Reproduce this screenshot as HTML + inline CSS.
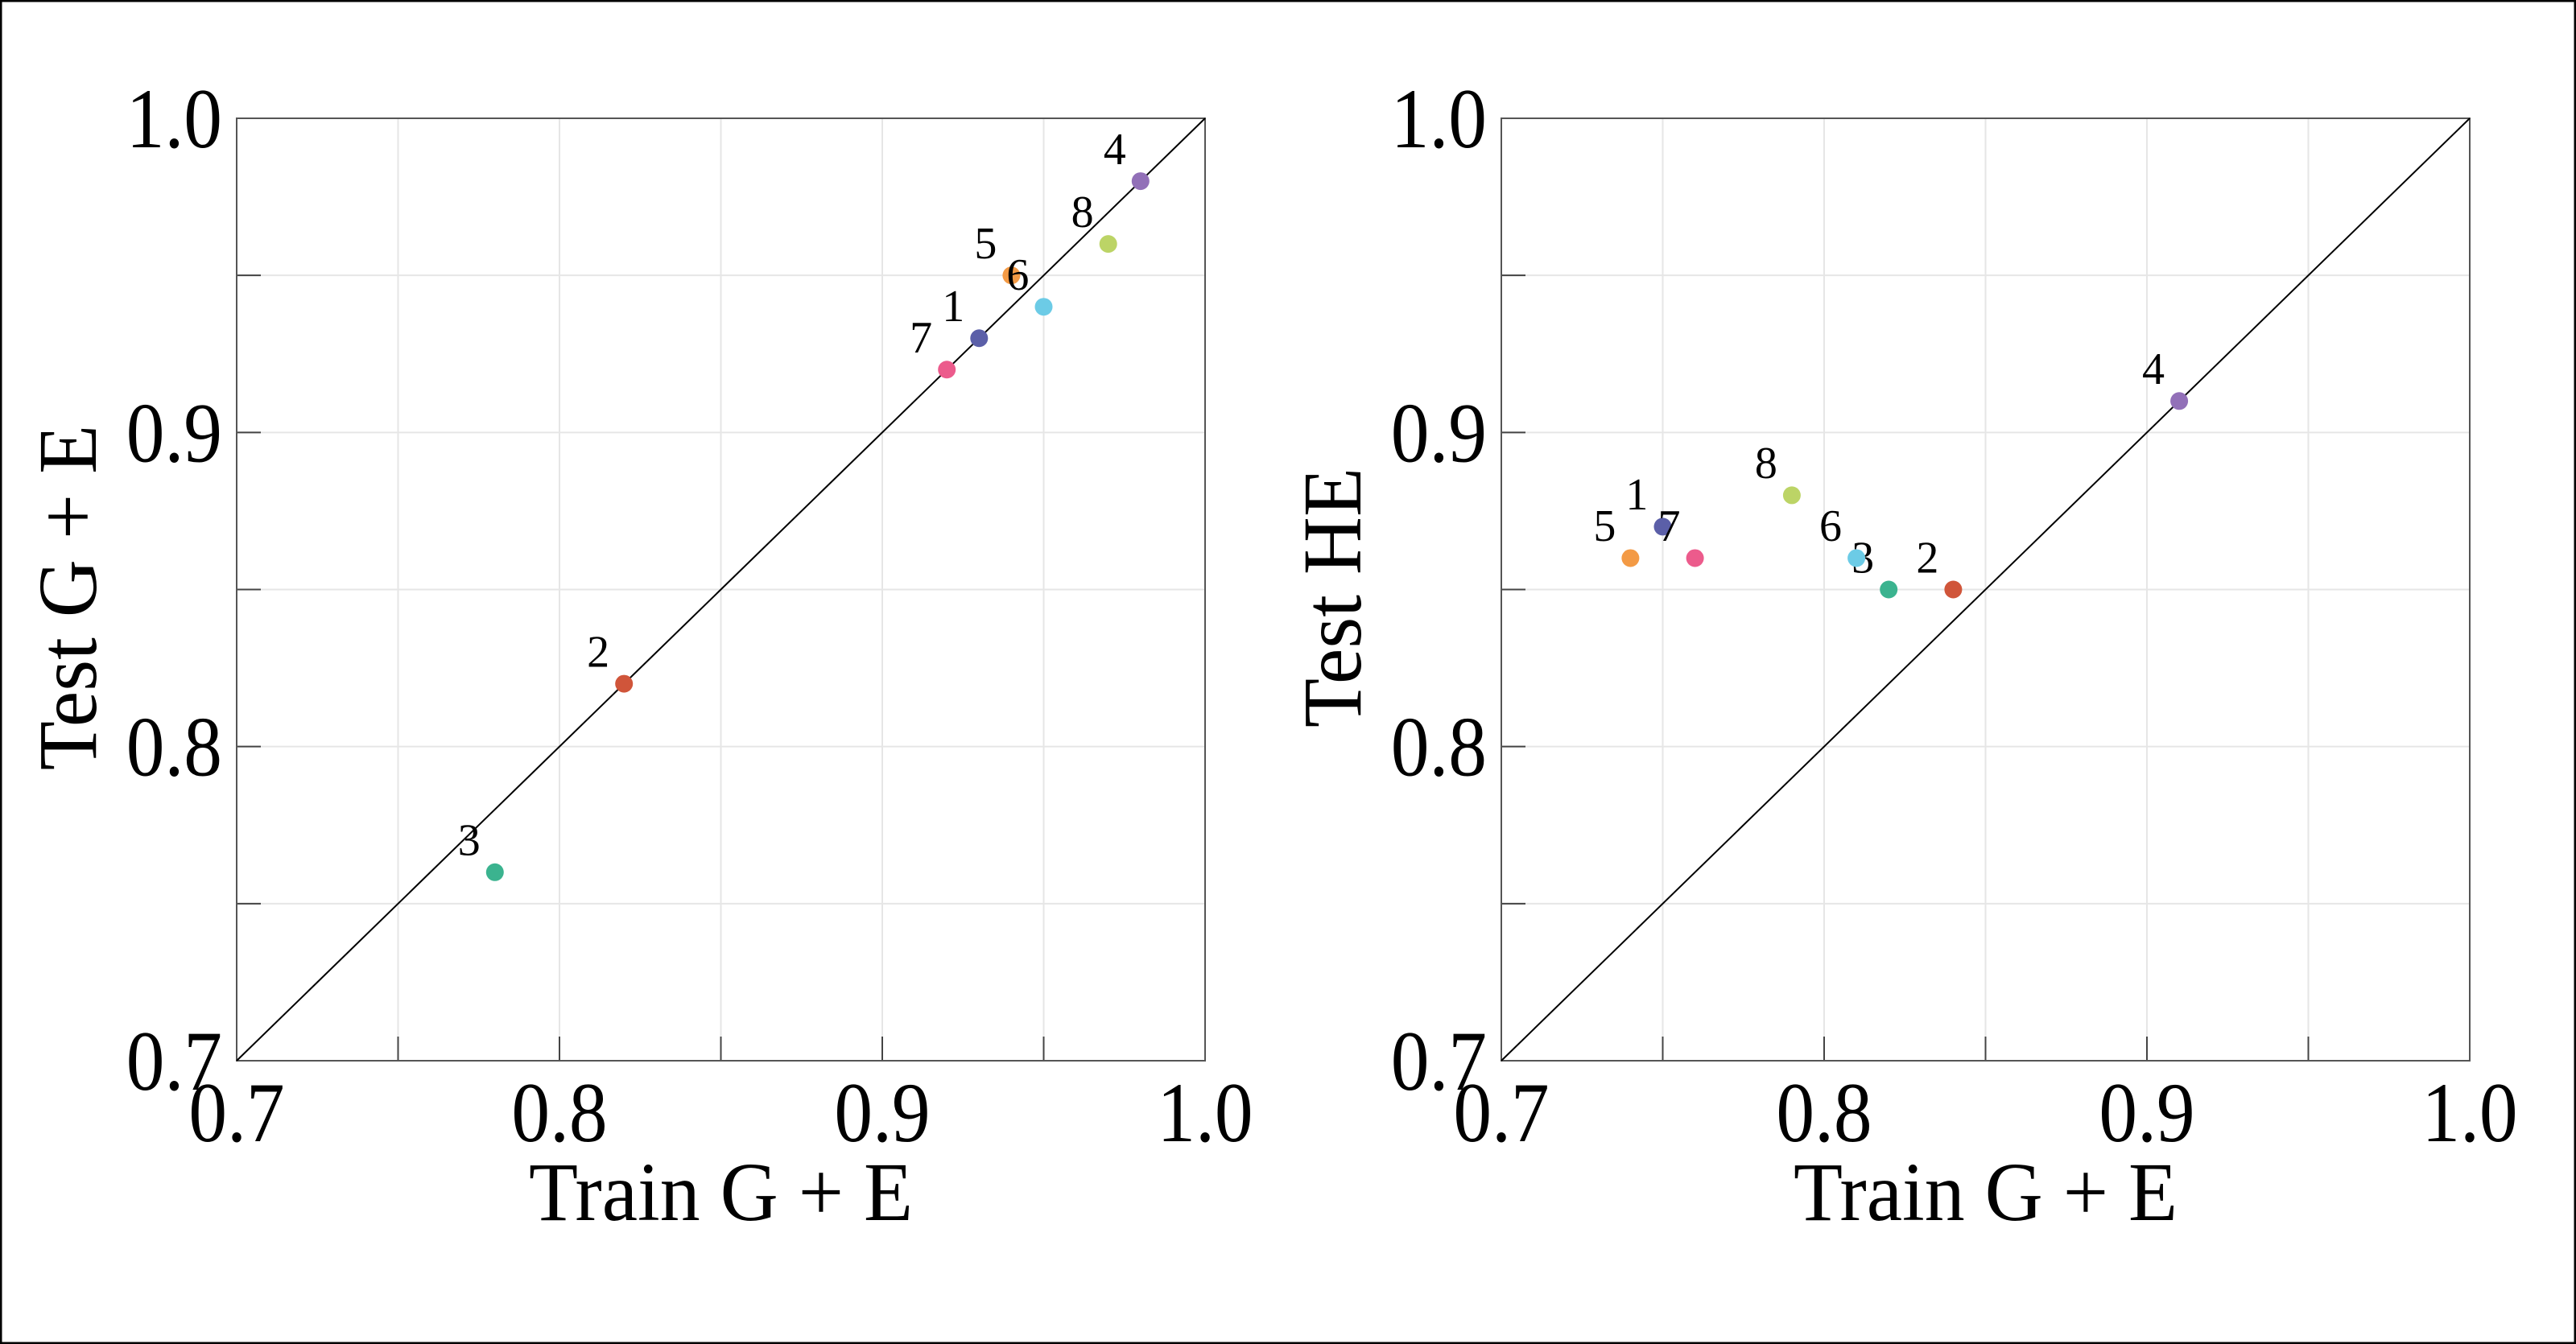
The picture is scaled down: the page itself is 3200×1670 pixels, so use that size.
<!DOCTYPE html>
<html><head><meta charset="utf-8"><style>
html,body{margin:0;padding:0;background:#fff}
svg{display:block}
text{font-family:"Liberation Serif",serif;fill:#000}
</style></head><body>
<svg id="c" width="3200" height="1670" viewBox="0 0 3200 1670" xmlns="http://www.w3.org/2000/svg">
<rect x="1" y="1" width="3198" height="1668" fill="#fff" stroke="#000" stroke-width="3"/>
</svg>
<script>
const ids = ['1','2','3','4','5','6','7','8'];
const colors = ['#5b5fa8','#d0553a','#3bb38f','#9270b8','#f39a45','#6ccbe6','#ec5b8c','#bcd466'];
const leftTrain = [0.93,0.82,0.78,0.98,0.94,0.95,0.92,0.97];
const leftTest = [0.93,0.82,0.76,0.98,0.95,0.94,0.92,0.96];
const rightTrain = [0.75,0.84,0.82,0.91,0.74,0.81,0.76,0.79];
const rightTest = [0.87,0.85,0.85,0.91,0.86,0.86,0.86,0.88];
const tickLabels = ['0.7','0.8','0.9','1.0'];
const tickValues = [0.7,0.8,0.9,1.0];
const minorValues = [0.75,0.8,0.85,0.9,0.95];

const NS='http://www.w3.org/2000/svg';
const svg=document.getElementById('c');
function mk(tag,attrs,parent){const e=document.createElementNS(NS,tag);for(const k in attrs)e.setAttribute(k,attrs[k]);(parent||svg).appendChild(e);return e;}

function panel(key,x0,x1,ytitle,xs,ys){
  const y0=1318,y1=147;
  const sx=v=>x0+(v-0.7)/0.3*(x1-x0);
  const sy=v=>y0-(v-0.7)/0.3*(y0-y1);
  const g=mk('g',{});
  
  
  minorValues.forEach(v=>{
    const gl=mk('line',{x1:sx(v),x2:sx(v),y1:y1,y2:y0,stroke:'#e6e6e6','stroke-width':2},g);
    
    
    const gh=mk('line',{x1:x0,x2:x1,y1:sy(v),y2:sy(v),stroke:'#e6e6e6','stroke-width':2},g);
    
    
    const tx=mk('line',{x1:sx(v),x2:sx(v),y1:y0,y2:y0-30,stroke:'#444','stroke-width':2},g);
    
    
    const ty=mk('line',{x1:x0,x2:x0+30,y1:sy(v),y2:sy(v),stroke:'#444','stroke-width':2},g);
    
    
  });
  const box=mk('rect',{x:x0,y:y1,width:x1-x0,height:y0-y1,fill:'none',stroke:'#555','stroke-width':2},g);
  
  
  const diag=mk('line',{x1:sx(0.7),y1:sy(0.7),x2:sx(1.0),y2:sy(1.0),stroke:'#000','stroke-width':2},g);
  
  
  tickValues.forEach((v,i)=>{
    const t=mk('text',{x:0,y:0,'font-size':106,'text-anchor':'middle',transform:`translate(${sx(v)},1418) scale(0.9,1)`},g);
    t.textContent=tickLabels[i];
    
    
    const u=mk('text',{x:0,y:0,'font-size':106,'text-anchor':'end',transform:`translate(${x0-18},${sy(v)+36}) scale(0.9,1)`},g);
    u.textContent=tickLabels[i];
    
    
  });
  const xt=mk('text',{x:0,y:0,'font-size':104,'text-anchor':'middle',transform:`translate(${(x0+x1)/2},1516) scale(0.96,1)`},g);
  xt.textContent='Train G + E';
  
  
  const yx=x0-175, yc=(y0+y1)/2+10;
  const yt=mk('text',{x:0,y:0,'font-size':104,'text-anchor':'middle',transform:`translate(${yx},${yc}) rotate(-90) scale(0.96,1)`},g);
  yt.textContent=ytitle;
  
  
  xs.forEach((v,i)=>{
    const c=mk('circle',{cx:sx(v),cy:sy(ys[i]),r:11,fill:colors[i]},g);
    
    
    const l=mk('text',{x:sx(v-0.008),y:sy(ys[i]+0.008)+10,'font-size':56,'text-anchor':'middle'},g);
    l.textContent=ids[i];
    
    
  });
}
panel('left',294,1497,'Test G + E',leftTrain,leftTest);
panel('right',1865,3068,'Test HE',rightTrain,rightTest);
</script>
</body></html>
